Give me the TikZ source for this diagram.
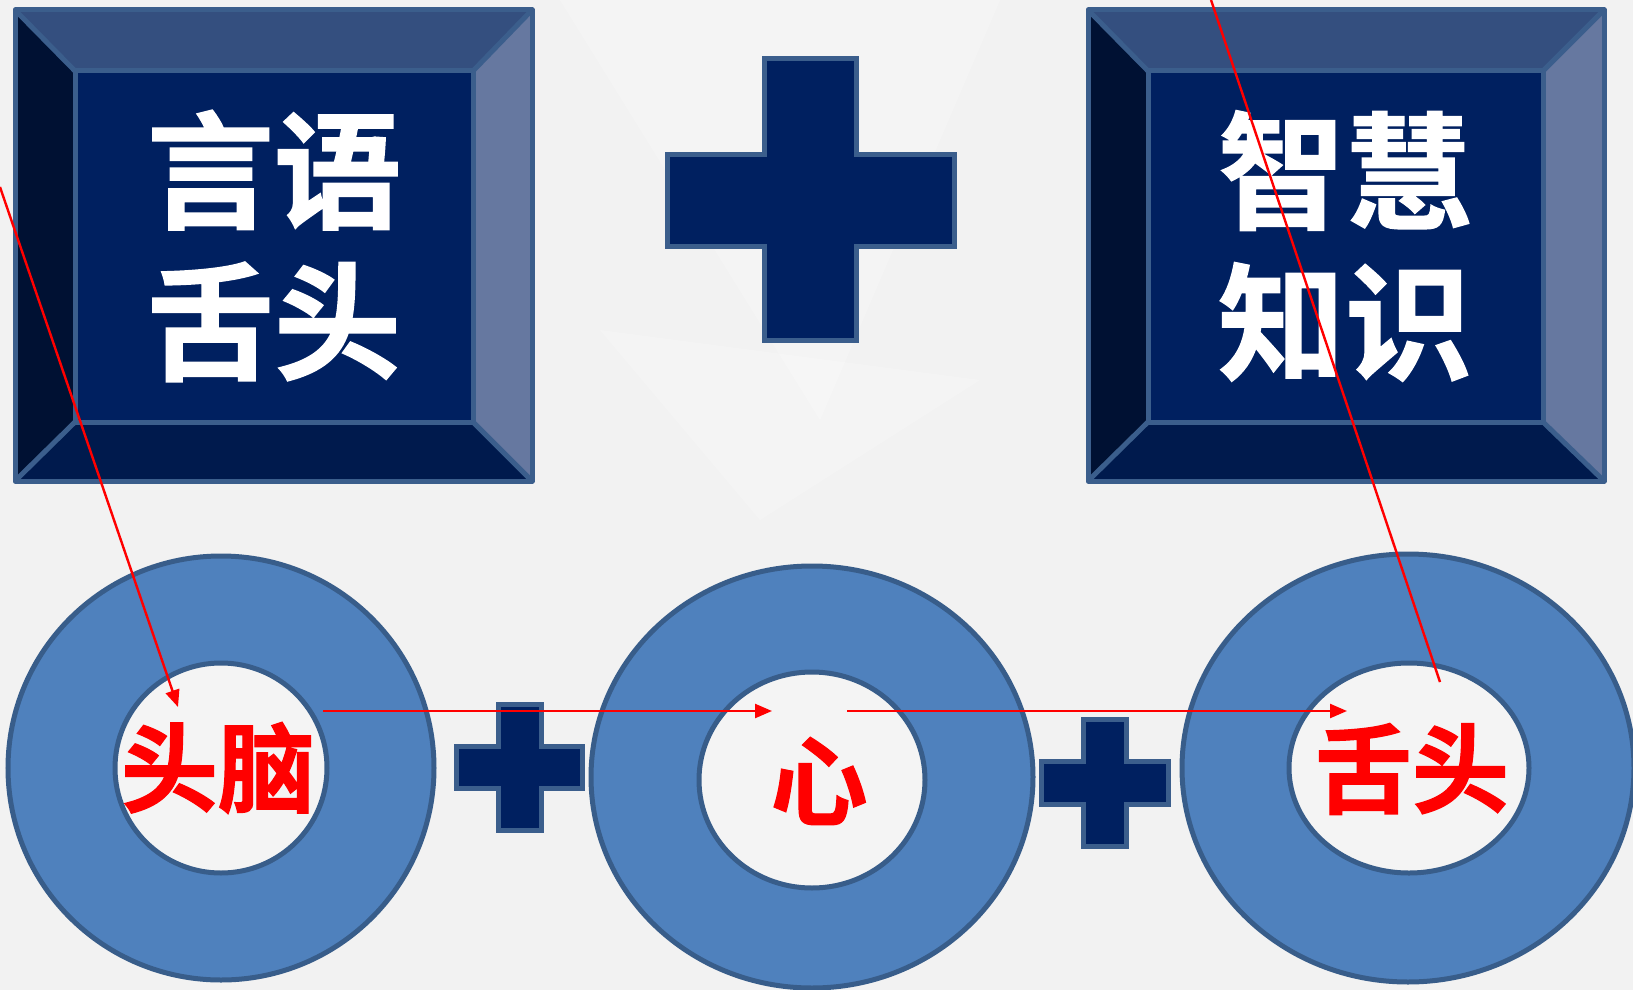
\documentclass[tikz,border=0pt]{standalone}
\usepackage{fontspec}
\newfontfamily\cjk[FakeBold=1.2]{Noto Sans CJK SC Bold}
\usetikzlibrary{arrows.meta}
\definecolor{bgc}{HTML}{F2F2F2}
\definecolor{face}{HTML}{002060}
\definecolor{bevtop}{HTML}{344F7F}
\definecolor{bevleft}{HTML}{001133}
\definecolor{bevbot}{HTML}{001A4D}
\definecolor{bevright}{HTML}{6678A0}
\definecolor{edge}{HTML}{3B5E8C}
\definecolor{donut}{HTML}{4F81BD}
\definecolor{donutedge}{HTML}{385D8A}
\definecolor{innerc}{HTML}{F4F4F4}
\tikzset{
  bevel/.style={draw=edge, line width=5pt, line join=round},
  plusshape/.style={fill=face, draw=edge, line width=5pt},
  ring/.style={fill=donut, draw=donutedge, line width=5pt},
  hole/.style={fill=innerc, draw=donutedge, line width=5pt},
  whitetext/.style={text=white, font=\cjk\fontsize{127}{151}\selectfont, align=center, inner sep=0pt},
  redtext/.style={text=red, font=\cjk\fontsize{97}{110}\selectfont, inner sep=0pt},
  redline/.style={draw=red, line width=2.4pt},
  redarrow/.style={redline, -{Triangle[length=17pt,width=14pt]}}
}
\begin{document}
\begin{tikzpicture}[x=1pt,y=-1pt]
\useasboundingbox (0,0) rectangle (1633,990);
\fill[bgc] (0,0) rectangle (1633,990);
% faint low-poly background
\fill[white,opacity=0.2] (560,0) -- (1000,0) -- (820,420) -- cycle;
\fill[gray!10,opacity=0.2] (420,470) -- (760,480) -- (520,640) -- cycle;
\fill[gray!10,opacity=0.2] (980,500) -- (1230,560) -- (1100,700) -- cycle;
\fill[white,opacity=0.2] (600,330) -- (980,380) -- (760,520) -- cycle;
\fill[gray!8,opacity=0.2] (1000,880) -- (1200,990) -- (980,990) -- cycle;
\fill[gray!8,opacity=0.2] (400,860) -- (600,990) -- (380,990) -- cycle;

% left bevel box
\fill[bevtop] (15,10) -- (532,10) -- (473,71) -- (75,71) -- cycle;
\fill[bevleft] (15,10) -- (75,71) -- (75,422) -- (15,481) -- cycle;
\fill[bevbot] (15,481) -- (75,422) -- (473,422) -- (532,481) -- cycle;
\fill[bevright] (532,10) -- (532,481) -- (473,422) -- (473,71) -- cycle;
\fill[face] (75,71) rectangle (473,422);
\draw[bevel] (15,10) rectangle (532,481);
\draw[bevel] (75,71) rectangle (473,422);
\draw[bevel] (15,10) -- (75,71) (532,10) -- (473,71) (15,481) -- (75,422) (532,481) -- (473,422);
\node[whitetext] (boxL) at (274,246) {言语\\舌头};

% right bevel box
\fill[bevtop] (1088,10) -- (1604,10) -- (1543,71) -- (1148,71) -- cycle;
\fill[bevleft] (1088,10) -- (1148,71) -- (1148,422) -- (1088,481) -- cycle;
\fill[bevbot] (1088,481) -- (1148,422) -- (1543,422) -- (1604,481) -- cycle;
\fill[bevright] (1604,10) -- (1604,481) -- (1543,422) -- (1543,71) -- cycle;
\fill[face] (1148,71) rectangle (1543,422);
\draw[bevel] (1088,10) rectangle (1604,481);
\draw[bevel] (1148,71) rectangle (1543,422);
\draw[bevel] (1088,10) -- (1148,71) (1604,10) -- (1543,71) (1088,481) -- (1148,422) (1604,481) -- (1543,422);
\node[whitetext] (boxR) at (1345,246) {智慧\\知识};

% big plus
\draw[plusshape] (764,59) -- (856,59) -- (856,154) -- (954,154) -- (954,246) -- (856,246) -- (856,340) -- (764,340) -- (764,246) -- (667,246) -- (667,154) -- (764,154) -- cycle;

% donuts
\draw[ring] (221,768) ellipse [x radius=213, y radius=212];
\draw[hole] (221,768) ellipse [x radius=106, y radius=105];
\draw[ring] (812,777) ellipse [x radius=221, y radius=211];
\draw[hole] (812,780) ellipse [x radius=113, y radius=108];
\draw[ring] (1408,768) ellipse [x radius=226, y radius=214];
\draw[hole] (1409,768) ellipse [x radius=120, y radius=105];

% small pluses
\draw[plusshape] (498,704) -- (541,704) -- (541,746) -- (582,746) -- (582,788) -- (541,788) -- (541,830) -- (498,830) -- (498,788) -- (456,788) -- (456,746) -- (498,746) -- cycle;
\draw[plusshape] (1083,719) -- (1126,719) -- (1126,761) -- (1168,761) -- (1168,804) -- (1126,804) -- (1126,846) -- (1083,846) -- (1083,804) -- (1041,804) -- (1041,761) -- (1083,761) -- cycle;

% red texts
\node[redtext] (naozi) at (218,768) {头脑};
\node[redtext] (xin) at (819,781) {心};
\node[redtext] (shetou) at (1412,769) {舌头};

% red lines
\coordinate (l1s) at (0,187);
\coordinate (l1e) at (178,707);
\coordinate (h1s) at (323,711);
\coordinate (h1e) at (772,711);
\coordinate (h2s) at (847,711);
\coordinate (h2e) at (1347,711);
\coordinate (r1s) at (1211,0);
\coordinate (r1e) at (1440,682);
\draw[redarrow] (l1s) -- (l1e);
\draw[redarrow] (h1s) -- (h1e);
\draw[redarrow] (h2s) -- (h2e);
\draw[redline] (r1s) -- (r1e);
\end{tikzpicture}
\end{document}
